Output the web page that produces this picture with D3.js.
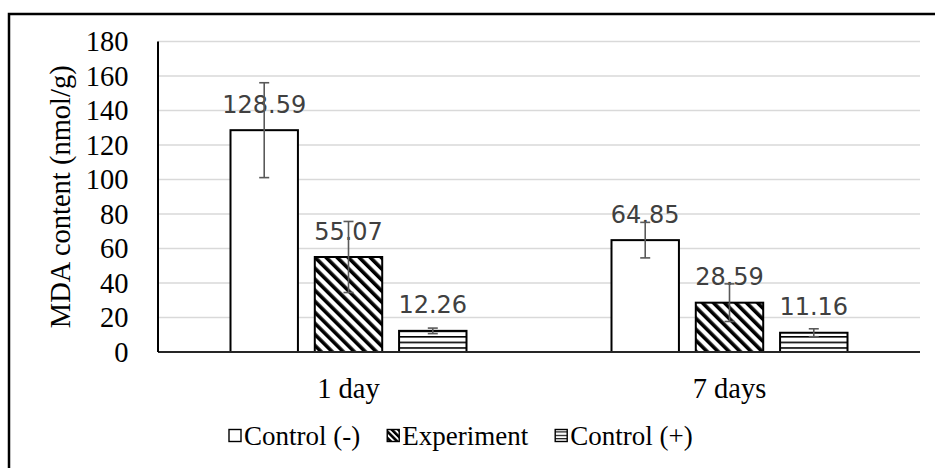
<!DOCTYPE html>
<html>
<head>
<meta charset="utf-8">
<script src="https://cdn.jsdelivr.net/npm/d3@7"></script>
<style>
  html, body { margin: 0; padding: 0; background: #fff; }
  svg { display: block; }
</style>
</head>
<body>
<svg id="chart" width="935" height="468"></svg>
<script>
// Sampling times on the x axis
const categories = ["1 day", "7 days"];
// Treatment groups (legend order)
const series = ["Control (-)", "Experiment", "Control (+)"];
// Mean MDA content (nmol/g) per series, in category order
const controlNeg = [128.59, 64.85];
const experiment = [55.07, 28.59];
const controlPos = [12.26, 11.16];
// Error bar half-widths per series, in category order
const errControlNeg = [27.5, 10.3];
const errExperiment = [20.6, 10.9];
const errControlPos = [1.6, 2.3];
// Y axis ticks
const yTicks = [0, 20, 40, 60, 80, 100, 120, 140, 160, 180];

const values = [controlNeg, experiment, controlPos];
const errors = [errControlNeg, errExperiment, errControlPos];
const fills = ["#ffffff", "url(#diag)", "url(#hlines)"];

const svg = d3.select("#chart");
const serif = "'Liberation Serif', 'Times New Roman', serif";

// Fill patterns
const defs = svg.append("defs");
const diag = defs.append("pattern")
  .attr("id", "diag").attr("patternUnits", "userSpaceOnUse")
  .attr("width", 7.8).attr("height", 7.8)
  .attr("patternTransform", "rotate(-45)");
diag.append("rect").attr("width", 7.8).attr("height", 7.8).attr("fill", "#fff");
diag.append("rect").attr("width", 3.6).attr("height", 7.8).attr("fill", "#000");

const hl = defs.append("pattern")
  .attr("id", "hlines").attr("patternUnits", "userSpaceOnUse")
  .attr("width", 10).attr("height", 5.6);
hl.append("rect").attr("width", 10).attr("height", 5.6).attr("fill", "#fff");
hl.append("rect").attr("y", 0).attr("width", 10).attr("height", 1.6).attr("fill", "#000");

// Small legend patterns
const diagS = defs.append("pattern")
  .attr("id", "diagS").attr("patternUnits", "userSpaceOnUse")
  .attr("width", 4.5).attr("height", 4.5)
  .attr("patternTransform", "rotate(-45)");
diagS.append("rect").attr("width", 4.5).attr("height", 4.5).attr("fill", "#fff");
diagS.append("rect").attr("width", 2.6).attr("height", 4.5).attr("fill", "#000");

const hlS = defs.append("pattern")
  .attr("id", "hlinesS").attr("patternUnits", "userSpaceOnUse")
  .attr("width", 10).attr("height", 3.4);
hlS.append("rect").attr("width", 10).attr("height", 3.4).attr("fill", "#fff");
hlS.append("rect").attr("y", 0).attr("width", 10).attr("height", 1.1).attr("fill", "#000");
const legendFills = ["#ffffff", "url(#diagS)", "url(#hlinesS)"];

// Chart frame
svg.append("rect")
  .attr("x", 9).attr("y", 14).attr("width", 960).attr("height", 480)
  .attr("fill", "none").attr("stroke", "#000").attr("stroke-width", 2.5);

// Scales
const y = d3.scaleLinear().domain([0, 180]).range([352, 41.5]);
const x = d3.scaleBand().domain(categories).range([158, 920]).padding(0);
const xs = d3.scaleBand().domain(series).range([-118, 118]).paddingInner(0.2);

// Gridlines
svg.append("g")
  .selectAll("line").data(yTicks.filter(d => d > 0)).join("line")
  .attr("x1", 158).attr("x2", 920)
  .attr("y1", d => y(d)).attr("y2", d => y(d))
  .attr("stroke", "#d9d9d9").attr("stroke-width", 1.5);

// Y axis labels
const yAxis = svg.append("g")
  .attr("transform", "translate(158,0)")
  .call(d3.axisLeft(y).tickValues(yTicks).tickSize(0).tickPadding(29.5));
yAxis.select(".domain").remove();
yAxis.selectAll("text")
  .attr("font-family", serif).attr("font-size", 28.5).attr("fill", "#000");

// Y axis title
svg.append("text")
  .attr("transform", `translate(70,${(y(0) + y(180)) / 2}) rotate(-90)`)
  .attr("text-anchor", "middle")
  .attr("font-family", serif).attr("font-size", 28.5).attr("fill", "#000")
  .text("MDA content (nmol/g)");

// Bars
const flat = [];
series.forEach((s, si) => categories.forEach((c, ci) => {
  flat.push({ s, si, c, v: values[si][ci], e: errors[si][ci] });
}));
const cx = d => x(d.c) + x.bandwidth() / 2 + xs(d.s);

svg.append("g").selectAll("rect").data(flat).join("rect")
  .attr("x", d => cx(d))
  .attr("y", d => y(d.v))
  .attr("width", xs.bandwidth())
  .attr("height", d => y(0) - y(d.v))
  .attr("fill", d => fills[d.si])
  .attr("stroke", "#000").attr("stroke-width", 2);

// Axes lines
svg.append("line")
  .attr("x1", 158).attr("x2", 920).attr("y1", y(0)).attr("y2", y(0))
  .attr("stroke", "#262626").attr("stroke-width", 2);
svg.append("line")
  .attr("x1", 158).attr("x2", 158).attr("y1", y(180)).attr("y2", y(0))
  .attr("stroke", "#000").attr("stroke-width", 2);

// Data labels
svg.append("g").selectAll("text").data(flat).join("text")
  .attr("x", d => cx(d) + xs.bandwidth() / 2)
  .attr("y", d => y(d.v) - 17.5)
  .attr("text-anchor", "middle")
  .attr("font-family", "'DejaVu Sans', sans-serif").attr("font-size", 24)
  .attr("fill", "#404040")
  .text(d => d.v.toFixed(2));

// Error bars
const eb = svg.append("g").attr("stroke", "#595959").attr("stroke-width", 1.6);
flat.forEach(d => {
  const mx = cx(d) + xs.bandwidth() / 2;
  eb.append("line").attr("x1", mx).attr("x2", mx)
    .attr("y1", y(d.v + d.e)).attr("y2", y(d.v - d.e));
  [d.v + d.e, d.v - d.e].forEach(t => {
    eb.append("line").attr("x1", mx - 5).attr("x2", mx + 5)
      .attr("y1", y(t)).attr("y2", y(t));
  });
});

// Category labels
svg.append("g").selectAll("text").data(categories).join("text")
  .attr("x", d => x(d) + x.bandwidth() / 2)
  .attr("y", 398)
  .attr("text-anchor", "middle")
  .attr("font-family", serif).attr("font-size", 28.5).attr("fill", "#000")
  .text(d => d);

// Legend
const legend = svg.append("g").attr("transform", "translate(0,445)");
let lx = 228;
series.forEach((s, i) => {
  const g = legend.append("g").attr("transform", `translate(${lx},0)`);
  g.append("rect").attr("x", 1).attr("y", -15.5).attr("width", 12).attr("height", 12)
    .attr("fill", legendFills[i]).attr("stroke", "#000").attr("stroke-width", 1.4);
  const t = g.append("text").attr("x", 16).attr("y", 0)
    .attr("font-family", serif).attr("font-size", 27).attr("fill", "#000")
    .text(s);
  lx += 16 + t.node().getComputedTextLength() + 26;
});
</script>
</body>
</html>
